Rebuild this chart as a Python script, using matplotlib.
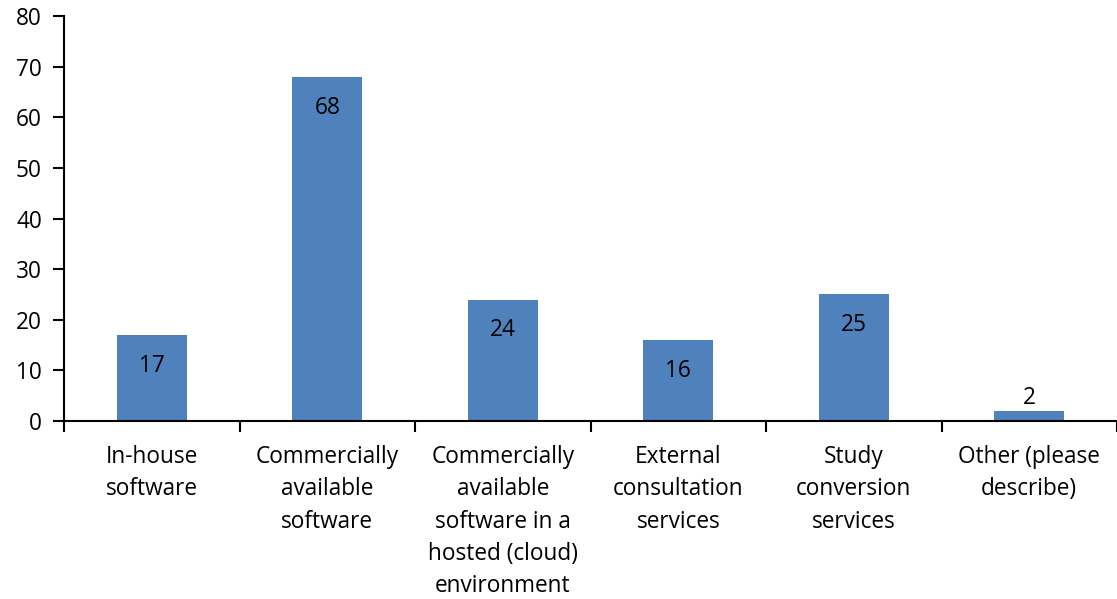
import numpy as np
import matplotlib.pyplot as plt

categories = ['In-house\nsoftware', 'Commercially\navailable\nsoftware',
              'Commercially\navailable\nsoftware in a\nhosted (cloud)\nenvironment',
              'External\nconsultation\nservices', 'Study\nconversion\nservices',
              'Other (please\ndescribe)']
values = [17, 68, 24, 16, 25, 2]

plt.rcParams['font.family'] = ['Open Sans', 'DejaVu Sans']
fs = 16.3

fig = plt.figure(figsize=(11.17, 5.99), dpi=100)
ax = fig.add_axes([64 / 1117, 1 - 421 / 599, 1 - 64 / 1117, (421 - 16) / 599])

x = np.arange(len(values))
ax.bar(x, values, width=0.4, color='#4F81BD', zorder=2)

# data labels: inside end for tall bars, above for the tiny one
for xi, v in zip(x, values):
    dy = -31 if v > 5 else 13
    ax.annotate(str(v), (xi, v), xytext=(0, dy), textcoords='offset pixels',
                ha='center', va='center', fontsize=fs, color='black')

ax.set_xlim(-0.5, 5.5)
ax.set_ylim(0, 80)
ax.set_yticks(range(0, 81, 10))
ax.set_xticks(x)
ax.set_xticklabels(categories, fontsize=fs, linespacing=1.47)
ax.set_xticks(np.arange(-0.5, 6, 1), minor=True)
ax.tick_params(axis='x', which='major', length=0, pad=17)
ax.tick_params(axis='x', which='minor', length=8, width=1.5, direction='out')
ax.tick_params(axis='y', length=8, width=1.5, labelsize=fs, pad=8)

for side in ['top', 'right']:
    ax.spines[side].set_visible(False)
ax.spines['left'].set_linewidth(1.5)
ax.spines['bottom'].set_linewidth(1.5)

fig.savefig('out.png', dpi=100)
